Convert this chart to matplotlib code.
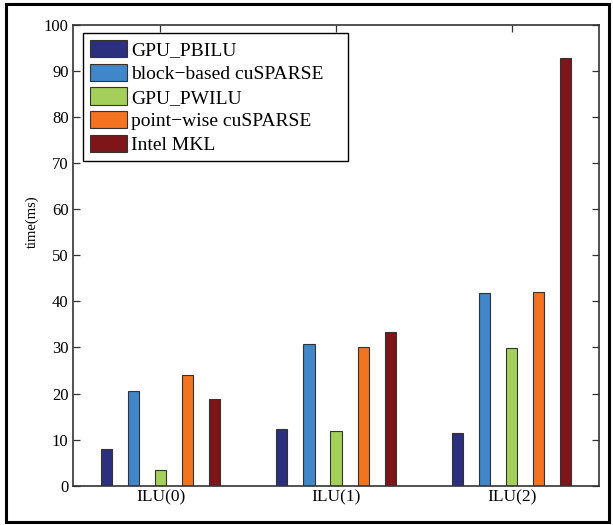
import matplotlib
matplotlib.use("Agg")
import matplotlib.pyplot as plt
import numpy as np
from matplotlib.patches import Rectangle

plt.rcParams['font.family'] = ['Liberation Serif', 'DejaVu Serif']

categories = ["ILU(0)", "ILU(1)", "ILU(2)"]
series_names = ["GPU_PBILU", "block\u2212based cuSPARSE", "GPU_PWILU",
                "point\u2212wise cuSPARSE", "Intel MKL"]
gpu_pbilu = [7.9, 12.4, 11.4]
block_cusparse = [20.6, 30.7, 41.8]
gpu_pwilu = [3.4, 11.9, 29.8]
point_cusparse = [24.0, 30.0, 42.0]
intel_mkl = [18.9, 33.4, 92.8]
series_values = [gpu_pbilu, block_cusparse, gpu_pwilu, point_cusparse, intel_mkl]
colors = ["#2b2f7e", "#4086c8", "#a4cf5b", "#f37321", "#7e1519"]
yticks = [0, 10, 20, 30, 40, 50, 60, 70, 80, 90, 100]

fig = plt.figure(figsize=(6.13, 5.25), dpi=100)
ax = fig.add_axes([0.1186, 0.0749, 0.9777 - 0.1186, 0.9524 - 0.0749])

x = np.arange(1, len(categories) + 1)
n = len(series_values)
step = 0.154
width = 0.063
for i, (vals, name, c) in enumerate(zip(series_values, series_names, colors)):
    off = (i - (n - 1) / 2) * step
    ax.bar(x + off, vals, width=width, color=c, edgecolor="#333333",
           linewidth=0.8, label=name, zorder=2)

ax.set_xlim(0.5, 3.5)
ax.set_ylim(0, 100)
ax.set_xticks(x)
ax.set_xticklabels(categories, fontsize=12.5)
ax.set_yticks(yticks)
ax.set_yticklabels([str(v) for v in yticks], fontsize=12)
ax.tick_params(direction="in", length=5, width=0.9, top=True, right=True,
               colors="#333333", labelcolor="black", pad=3)
for s in ax.spines.values():
    s.set_linewidth(1.2)
    s.set_color("#333333")
ax.set_ylabel("time(ms)", fontsize=10.5)
ax.yaxis.set_label_coords(-0.064, 0.572)

leg = ax.legend(loc="upper left", bbox_to_anchor=(0.0201, 0.0, 0.503, 0.982),
                mode="expand", borderaxespad=0, fontsize=14, handlelength=1.9,
                handleheight=1.0, handletextpad=0.2, labelspacing=0.22,
                borderpad=0.35, fancybox=False, framealpha=1,
                edgecolor="black")
leg.get_frame().set_linewidth(1.0)

fig.patches.append(Rectangle((6 / 613, 1 - 522 / 525), (609 - 6) / 613,
                             (522 - 4) / 525, transform=fig.transFigure,
                             fill=False, edgecolor="black", linewidth=2.2))

fig.savefig("out.png", dpi=100)
